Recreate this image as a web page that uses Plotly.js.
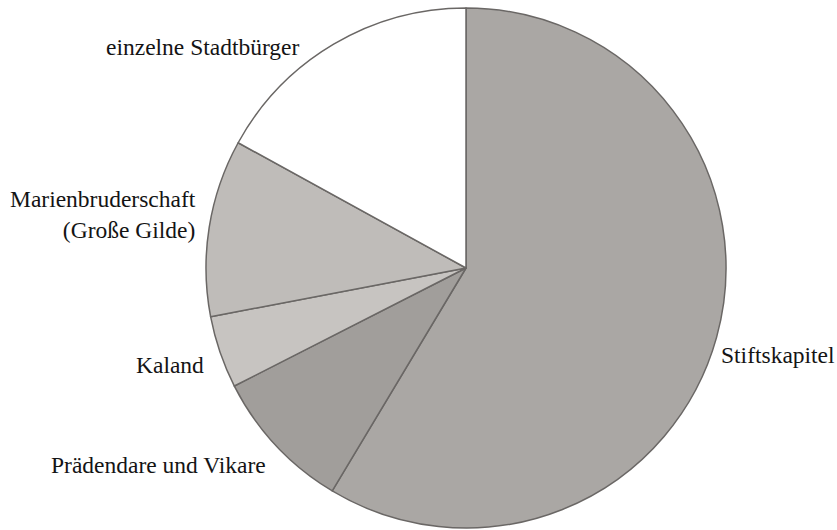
<!DOCTYPE html>
<html>
<head>
<meta charset="utf-8">
<script src="https://cdn.plot.ly/plotly-3.0.1.min.js"></script>
<style>html,body{margin:0;padding:0;background:#fff;}#chart{width:837px;height:530px;}</style>
</head>
<body>
<div id="chart"></div>
<script>
// Data
const categories = ["Stiftskapitel", "Prädendare und Vikare", "Kaland", "Marienbruderschaft<br>(Große Gilde)", "einzelne Stadtbürger"];
const shares = [58.6, 8.9, 4.5, 11.0, 17.0];
const sliceColors = ["#aaa7a4", "#a19e9b", "#c7c4c1", "#bfbcb9", "#ffffff"];

// Label placement (pixels in 837x530 figure)
const W = 837, H = 530;
const labelPos = [
  {x: 836, y: 355, xa: "right"},
  {x: 267, y: 465, xa: "right"},
  {x: 205, y: 365, xa: "right"},
  {x: 197, y: 214, xa: "right"},
  {x: 301, y: 47, xa: "right"}
];

const trace = {
  type: "pie",
  labels: categories,
  values: shares,
  sort: false,
  direction: "clockwise",
  rotation: 0,
  textinfo: "none",
  hoverinfo: "label+percent",
  marker: {colors: sliceColors, line: {color: "#6a6765", width: 1.5}},
  domain: {x: [206/W, 726/W], y: [2/H, 522/H]},
  showlegend: false
};

const annotations = categories.map((c, i) => ({
  text: c,
  x: labelPos[i].x / W,
  y: 1 - labelPos[i].y / H,
  xref: "paper", yref: "paper",
  xanchor: labelPos[i].xa,
  yanchor: "middle",
  align: labelPos[i].xa,
  showarrow: false,
  borderpad: 0,
  font: {family: "Liberation Serif", size: 23.5, color: "#141414"}
}));

const layout = {
  width: W, height: H,
  margin: {l: 0, r: 0, t: 0, b: 0},
  paper_bgcolor: "#ffffff",
  showlegend: false,
  annotations: annotations
};

Plotly.newPlot("chart", [trace], layout, {displayModeBar: false, staticPlot: true});
</script>
</body>
</html>
